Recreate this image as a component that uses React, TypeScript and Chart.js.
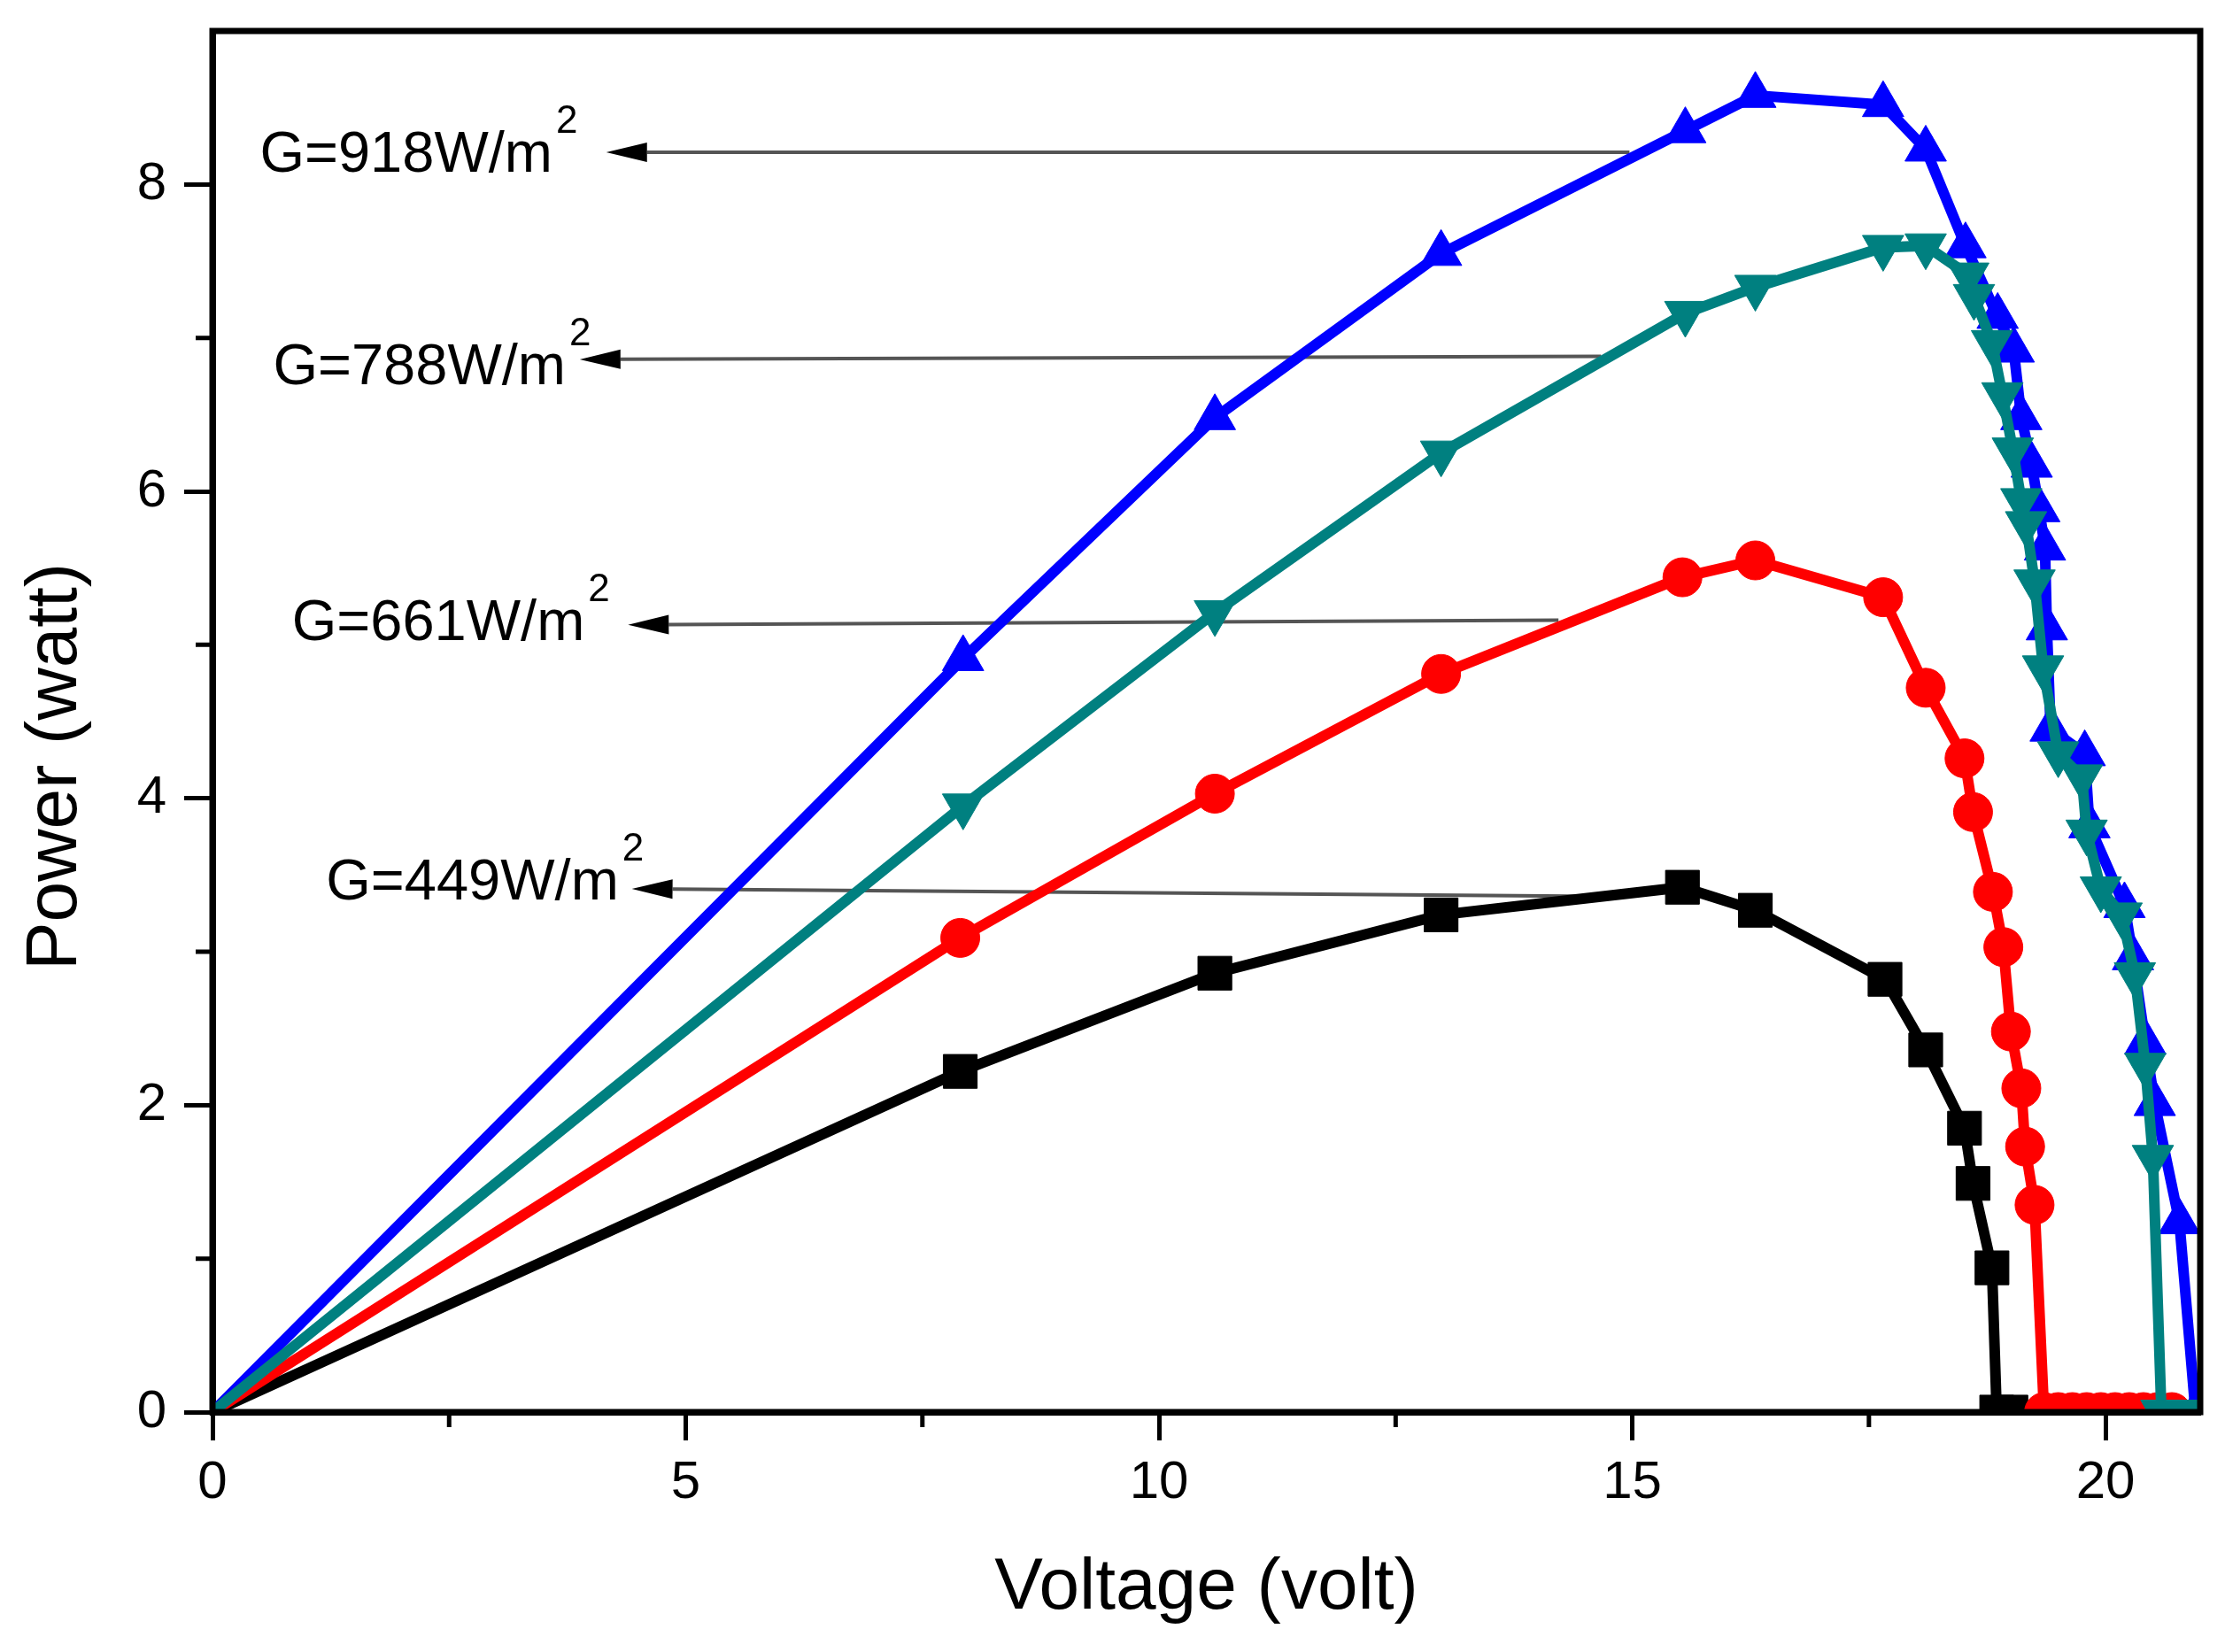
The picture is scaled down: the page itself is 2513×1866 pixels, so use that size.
import { useEffect, useRef } from 'react';
import { Chart, registerables } from 'chart.js';

Chart.register(...registerables);

// P-V readings, one pair of arrays per irradiance level
const voltage449 = [0, 7.9, 10.59, 12.98, 15.53, 16.3, 17.67, 18.1, 18.51, 18.6, 18.8, 18.85, 19.0];
const power449 = [0, 2.22, 2.86, 3.24, 3.42, 3.27, 2.82, 2.36, 1.85, 1.49, 0.94, 0, 0];

const voltage661 = [0, 7.9, 10.59, 12.98, 15.53, 16.3, 17.65, 18.1, 18.51, 18.6, 18.81, 18.92, 19.0, 19.11, 19.15, 19.25, 19.35, 19.5, 19.65, 19.8, 19.95, 20.1, 20.25, 20.4, 20.55, 20.7];
const power661 = [0, 3.09, 4.03, 4.81, 5.44, 5.55, 5.31, 4.72, 4.26, 3.91, 3.39, 3.03, 2.48, 2.11, 1.73, 1.35, 0, 0, 0, 0, 0, 0, 0, 0, 0, 0];

const voltage788 = [0, 7.93, 10.59, 12.98, 15.56, 16.3, 17.65, 18.1, 18.55, 18.61, 18.8, 18.91, 19.02, 19.11, 19.16, 19.25, 19.34, 19.5, 19.75, 19.8, 19.95, 20.17, 20.31, 20.42, 20.5, 20.59, 20.75, 20.9];
const power788 = [0, 3.95, 5.21, 6.25, 7.16, 7.33, 7.59, 7.6, 7.41, 7.27, 6.97, 6.63, 6.27, 5.94, 5.79, 5.41, 4.85, 4.29, 4.14, 3.78, 3.41, 3.24, 2.85, 2.26, 1.66, 0, 0, 0];

const voltage918 = [0, 7.93, 10.59, 12.98, 15.56, 16.3, 17.65, 18.1, 18.52, 18.86, 19.03, 19.11, 19.22, 19.3, 19.36, 19.38, 19.42, 19.78, 19.83, 20.2, 20.29, 20.42, 20.52, 20.78, 20.95];
const power918 = [0, 4.91, 6.48, 7.55, 8.35, 8.58, 8.52, 8.23, 7.6, 7.14, 6.92, 6.48, 6.17, 5.88, 5.63, 5.11, 4.45, 4.29, 3.82, 3.3, 2.96, 2.41, 2.01, 1.24, 0];

const xTicks = [0, 5, 10, 15, 20];
const xMinorTicks = [2.5, 7.5, 12.5, 17.5];
const yTicks = [0, 2, 4, 6, 8];
const yMinorTicks = [1, 3, 5, 7];

const irradianceLabels = ['G=918W/m', 'G=788W/m', 'G=661W/m', 'G=449W/m'];

const FONT = '"Liberation Sans", Arial, Helvetica, sans-serif';

const toPoints = (xs: number[], ys: number[]) => xs.map((x, i) => ({ x, y: ys[i] }));

// label text start / baseline and arrow (tail -> tip), all in data units
const callouts = [
  { text: [0.5, 8.08], tail: [14.97, 8.21], tip: [4.16, 8.21] },
  { text: [0.64, 6.7], tail: [14.67, 6.88], tip: [3.88, 6.86] },
  { text: [0.84, 5.03], tail: [14.22, 5.16], tip: [4.39, 5.13] },
  { text: [1.2, 3.34], tail: [14.67, 3.36], tip: [4.43, 3.41] },
];

const calloutPlugin = {
  id: 'callouts',
  beforeDatasetsDraw(chart) {
    const { ctx, scales } = chart;
    const xs = scales.x;
    const ys = scales.y;
    ctx.save();
    callouts.forEach((c, i) => {
      const tx = xs.getPixelForValue(c.tip[0]);
      const ty = ys.getPixelForValue(c.tip[1]);
      const fx = xs.getPixelForValue(c.tail[0]);
      const fy = ys.getPixelForValue(c.tail[1]);
      const ang = Math.atan2(fy - ty, fx - tx);
      const headLen = 46;
      const headHalf = 11;
      const bx = tx + Math.cos(ang) * headLen;
      const by = ty + Math.sin(ang) * headLen;
      ctx.strokeStyle = '#555555';
      ctx.lineWidth = 4;
      ctx.beginPath();
      ctx.moveTo(fx, fy);
      ctx.lineTo(bx, by);
      ctx.stroke();
      ctx.fillStyle = '#000';
      ctx.beginPath();
      ctx.moveTo(tx, ty);
      ctx.lineTo(bx - Math.sin(ang) * headHalf, by + Math.cos(ang) * headHalf);
      ctx.lineTo(bx + Math.sin(ang) * headHalf, by - Math.cos(ang) * headHalf);
      ctx.closePath();
      ctx.fill();

      const lx = xs.getPixelForValue(c.text[0]);
      const ly = ys.getPixelForValue(c.text[1]);
      ctx.fillStyle = '#000';
      ctx.textAlign = 'left';
      ctx.textBaseline = 'alphabetic';
      ctx.font = `65px ${FONT}`;
      ctx.fillText(irradianceLabels[i], lx, ly);
      const w = ctx.measureText(irradianceLabels[i]).width;
      ctx.font = `44px ${FONT}`;
      ctx.fillText('2', lx + w + 4, ly - 44);
    });
    ctx.restore();
  },
  afterDraw(chart) {
    const { ctx, chartArea, scales } = chart;
    ctx.save();
    ctx.strokeStyle = '#000';
    ctx.lineWidth = 7;
    ctx.strokeRect(chartArea.left, chartArea.top, chartArea.right - chartArea.left, chartArea.bottom - chartArea.top);
    ctx.lineWidth = 5;
    ctx.beginPath();
    xMinorTicks.forEach((v) => {
      const px = scales.x.getPixelForValue(v);
      ctx.moveTo(px, chartArea.bottom);
      ctx.lineTo(px, chartArea.bottom + 17);
    });
    yMinorTicks.forEach((v) => {
      const py = scales.y.getPixelForValue(v);
      ctx.moveTo(chartArea.left, py);
      ctx.lineTo(chartArea.left - 19, py);
    });
    ctx.stroke();

    // y axis title
    ctx.fillStyle = '#000';
    ctx.font = `82px ${FONT}`;
    ctx.textAlign = 'center';
    ctx.textBaseline = 'middle';
    ctx.translate(63, 866);
    ctx.rotate(-Math.PI / 2);
    ctx.fillText('Power (watt)', 0, 0);
    ctx.restore();
  },
};

const App = () => {
  const canvasRef = useRef(null);

  useEffect(() => {
    const marker = (style: string, radius: number, color: string, rotation = 0) => ({
      borderColor: color,
      backgroundColor: color,
      borderWidth: 12,
      pointStyle: style,
      pointRotation: rotation,
      pointRadius: (c) => (c.dataIndex === 0 ? 0 : radius),
      pointBorderWidth: 1,
      pointBorderColor: color,
      pointBackgroundColor: color,
      tension: 0,
    });

    const chart = new Chart(canvasRef.current, {
      type: 'line',
      data: {
        datasets: [
          { label: 'G=788W/m2', data: toPoints(voltage788, power788), order: 0, ...marker('triangle', 27, '#008080', 180) },
          { label: 'G=918W/m2', data: toPoints(voltage918, power918), order: 1, ...marker('triangle', 27, '#0000ff') },
          { label: 'G=661W/m2', data: toPoints(voltage661, power661), order: 2, ...marker('circle', 22, '#ff0000') },
          { label: 'G=449W/m2', data: toPoints(voltage449, power449), order: 3, ...marker('rect', 27, '#000000') },
        ],
      },
      options: {
        animation: false,
        responsive: false,
        devicePixelRatio: 1,
        layout: { padding: { top: 35, right: 27, left: 0, bottom: 0 } },
        plugins: {
          legend: { display: false },
          tooltip: { enabled: false },
        },
        scales: {
          x: {
            type: 'linear',
            min: 0,
            max: 21,
            afterBuildTicks: (scale) => {
              scale.ticks = xTicks.map((value) => ({ value }));
            },
            afterFit: (scale) => {
              scale.height = 271;
              scale.paddingLeft = 0;
              scale.paddingRight = 0;
            },
            grid: { drawOnChartArea: false, drawTicks: true, tickLength: 32, tickWidth: 5, tickColor: '#000' },
            border: { display: true, color: '#000', width: 7 },
            ticks: { color: '#000', font: { family: FONT, size: 60 }, padding: 12, maxRotation: 0 },
            title: {
              display: true,
              text: 'Voltage (volt)',
              color: '#000',
              font: { family: FONT, size: 82 },
              padding: { top: 0, bottom: 22 },
            },
          },
          y: {
            type: 'linear',
            min: 0,
            max: 9,
            afterBuildTicks: (scale) => {
              scale.ticks = yTicks.map((value) => ({ value }));
            },
            afterFit: (scale) => {
              scale.width = 240;
              scale.paddingTop = 0;
              scale.paddingBottom = 0;
            },
            grid: { drawOnChartArea: false, drawTicks: true, tickLength: 32, tickWidth: 5, tickColor: '#000' },
            border: { display: true, color: '#000', width: 7 },
            ticks: { color: '#000', font: { family: FONT, size: 60 }, padding: 20 },
          },
        },
      },
      plugins: [calloutPlugin],
    });

    return () => {
      chart.destroy();
    };
  }, []);

  return (
    <div style={{ position: 'absolute', left: 0, top: 0, width: 2513, height: 1866, background: '#fff' }}>
      <canvas ref={canvasRef} width={2513} height={1866} style={{ width: 2513, height: 1866 }}></canvas>
    </div>
  );
};

export default App;
